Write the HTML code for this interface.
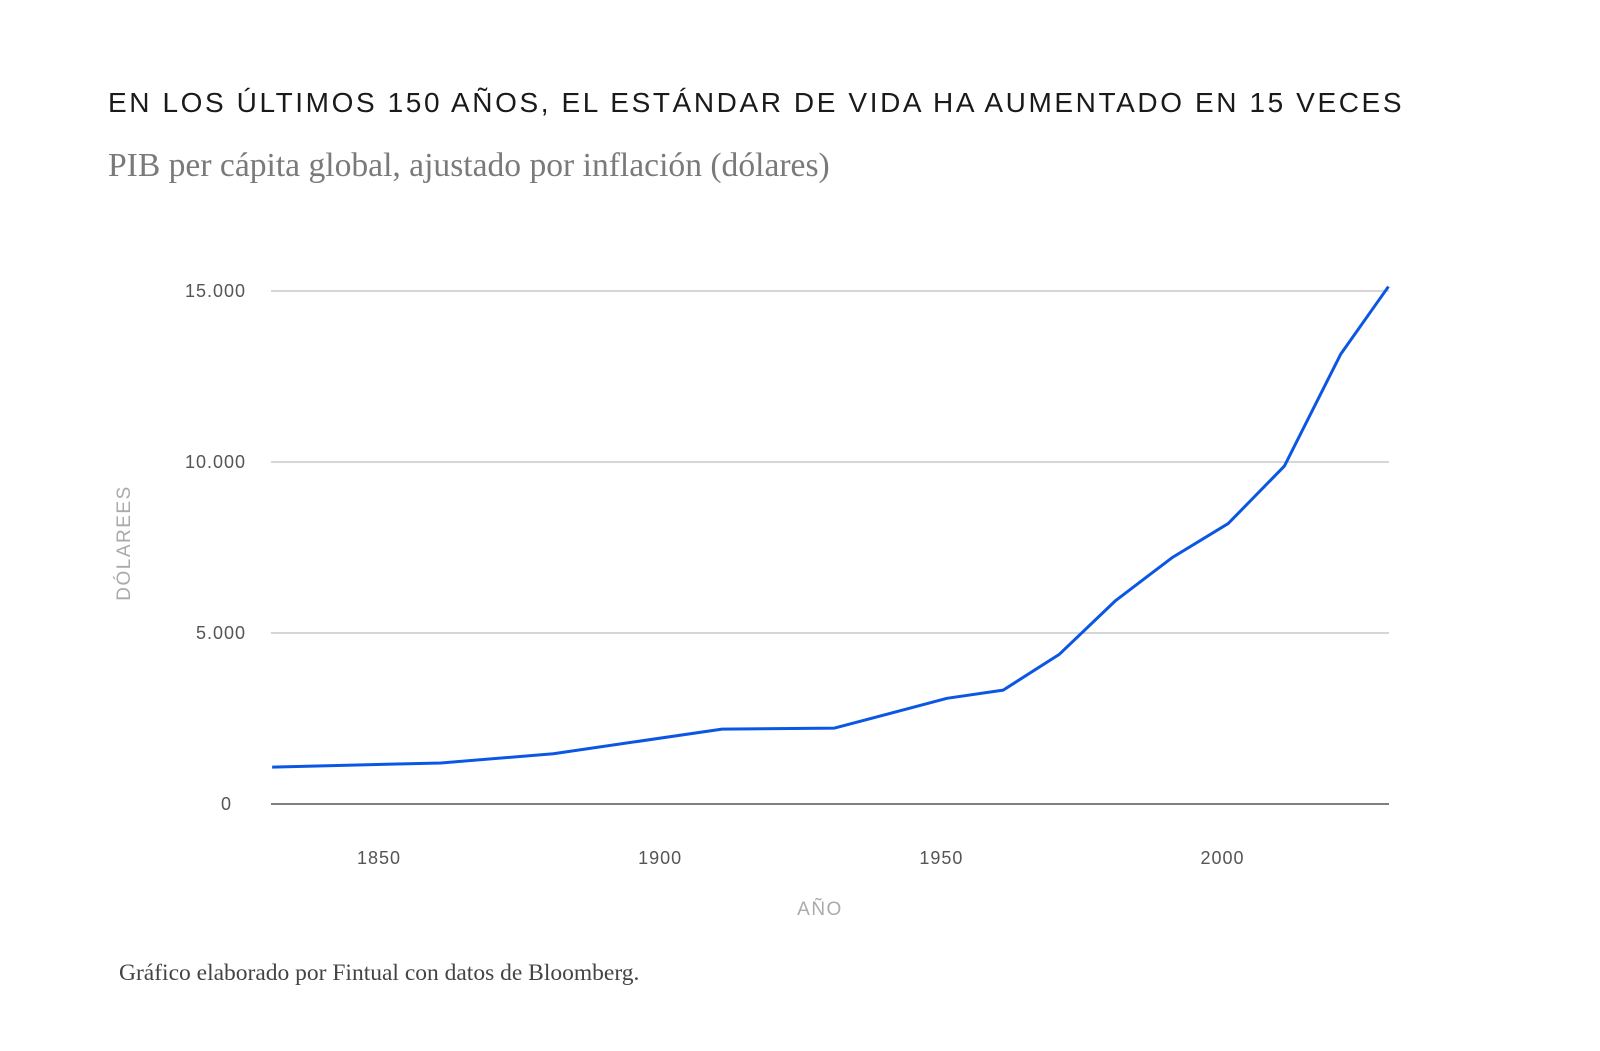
<!DOCTYPE html>
<html><head><meta charset="utf-8"><style>
body{margin:0;background:#fff;width:1600px;height:1051px;overflow:hidden;font-family:"Liberation Sans",sans-serif}
#title{position:absolute;left:108px;top:87px;font-size:28px;letter-spacing:2.6px;color:#1a1a1a;white-space:nowrap}
#sub{position:absolute;left:108px;top:147px;font-family:"Liberation Serif",serif;font-size:33.6px;color:#7a7a7a;white-space:nowrap}
#foot{position:absolute;left:119px;top:960px;font-family:"Liberation Serif",serif;font-size:23.5px;color:#444;white-space:nowrap}
</style></head><body>
<div id="title">EN LOS ÚLTIMOS 150 AÑOS, EL ESTÁNDAR DE VIDA HA AUMENTADO EN 15 VECES</div>
<div id="sub">PIB per cápita global, ajustado por inflación (dólares)</div>
<svg id="chart" width="1600" height="1051" style="position:absolute;left:0;top:0"></svg>
<div id="foot">Gráfico elaborado por Fintual con datos de Bloomberg.</div>
<script>
const years=[1831,1861,1881,1911,1931,1951,1961,1971,1981,1991,2001,2011,2021,2029.5];
const gdp=[1080,1200,1470,2190,2220,3090,3330,4380,5950,7200,8200,9880,13150,15130];
const yTicks=[0,5000,10000,15000];
const yTickLabels=["0","5.000","10.000","15.000"];
const xTicks=[1850,1900,1950,2000];
const NS="http://www.w3.org/2000/svg";
const svg=document.getElementById('chart');
const X0=271,X1=1389,Y0=804,Y15=291;
const x=v=>X0+(v-1830.8)*(X1-X0)/(2029.6-1830.8);
const y=v=>Y0-v*(Y0-Y15)/15000;
function mk(t,a){const e=document.createElementNS(NS,t);for(const k in a)e.setAttribute(k,a[k]);svg.appendChild(e);return e;}
yTicks.forEach((t,i)=>{
 const l=mk('line',{x1:X0,x2:X1,y1:y(t),y2:y(t),stroke:t===0?'#555':'#c8c8c8','stroke-width':1.5});
 
 
 const tx=mk('text',{x:t===0?232:246,y:y(t)+6,'text-anchor':'end','font-size':18,fill:'#555','letter-spacing':'1','font-family':'Liberation Sans, sans-serif'});
 tx.textContent=yTickLabels[i];
 
 
});
xTicks.forEach(t=>{
 const tx=mk('text',{x:x(t),y:864,'text-anchor':'middle','font-size':18,fill:'#555','letter-spacing':'1','font-family':'Liberation Sans, sans-serif'});
 tx.textContent=t;
 
 
});
const xt=mk('text',{x:820,y:915,'text-anchor':'middle','font-size':19,fill:'#aaa','letter-spacing':'1.5','font-family':'Liberation Sans, sans-serif'});
xt.textContent='AÑO';


const yt=mk('text',{x:0,y:0,transform:'translate(130,543) rotate(-90)','text-anchor':'middle','font-size':19,fill:'#aaa','letter-spacing':'1.5','font-family':'Liberation Sans, sans-serif'});
yt.textContent='DÓLAREES';


const p=mk('polyline',{points:years.map((yr,i)=>x(yr)+','+y(gdp[i])).join(' '),fill:'none',stroke:'#0b57e3','stroke-width':3,'stroke-linejoin':'round'});


</script>
</body></html>
